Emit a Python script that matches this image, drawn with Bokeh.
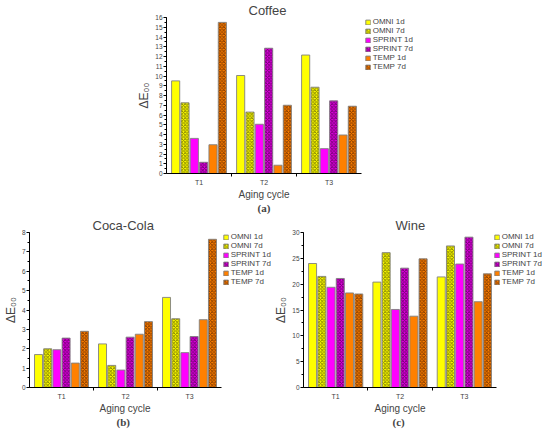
import numpy as np
from bokeh.plotting import figure
from bokeh.models import (Range1d, FixedTicker, SingleIntervalTicker, Legend,
                          LegendItem, Title, Spacer)
from bokeh.layouts import column, row
from bokeh.embed import file_html
from bokeh.resources import INLINE

cycles = ["T1", "T2", "T3"]
series = ["OMNI 1d", "OMNI 7d", "SPRINT 1d", "SPRINT 7d", "TEMP 1d", "TEMP 7d"]

coffee_omni_1d = [9.5, 10.05, 12.15]
coffee_omni_7d = [7.25, 6.3, 8.85]
coffee_sprint_1d = [3.6, 5.05, 2.55]
coffee_sprint_7d = [1.15, 12.85, 7.45]
coffee_temp_1d = [2.95, 0.85, 3.95]
coffee_temp_7d = [15.5, 7.0, 6.9]

coca_omni_1d = [1.7, 2.25, 4.65]
coca_omni_7d = [2.0, 1.14, 3.55]
coca_sprint_1d = [1.95, 0.9, 1.8]
coca_sprint_7d = [2.55, 2.6, 2.63]
coca_temp_1d = [1.26, 2.75, 3.5]
coca_temp_7d = [2.9, 3.4, 7.65]

wine_omni_1d = [24.0, 20.4, 21.4]
wine_omni_7d = [21.5, 26.1, 27.4]
wine_sprint_1d = [19.4, 15.1, 23.9]
wine_sprint_7d = [21.1, 23.1, 29.1]
wine_temp_1d = [18.3, 13.8, 16.6]
wine_temp_7d = [18.1, 24.9, 22.0]

coffee = [coffee_omni_1d, coffee_omni_7d, coffee_sprint_1d,
          coffee_sprint_7d, coffee_temp_1d, coffee_temp_7d]
coca = [coca_omni_1d, coca_omni_7d, coca_sprint_1d,
        coca_sprint_7d, coca_temp_1d, coca_temp_7d]
wine = [wine_omni_1d, wine_omni_7d, wine_sprint_1d,
        wine_sprint_7d, wine_temp_1d, wine_temp_7d]

fills = ["#FFFF00", "#FFFF00", "#FF00FF", "#E000E0", "#FF8000", "#FF8000"]
hatches = [None, "diagonal_cross", None, "diagonal_cross", None, "diagonal_cross"]
hatch_cols = ["#808000", "#707000", "#800080", "#600060", "#804000", "#703000"]

FONT = "Liberation Sans"
BAR_W = 0.125
STEP = 0.1436


def make_panel(title, values, ymax, yint, dw, lw, fh, caption, toff, aoff,
               coff, mbl):
    n = len(cycles)
    xmax = n - 0.5 + n * lw / dw
    p = figure(frame_width=dw + lw, frame_height=fh,
               x_range=Range1d(-0.5, xmax),
               y_range=Range1d(0, ymax),
               output_backend="svg", toolbar_location=None,
               min_border_left=mbl, min_border_right=0,
               min_border_top=0, min_border_bottom=0)
    p.outline_line_color = None
    p.xgrid.grid_line_color = None
    p.ygrid.grid_line_color = None
    p.background_fill_color = "white"
    p.border_fill_color = "white"

    p.title.text = title
    p.title.align = "left"
    p.title.text_font = FONT
    p.title.text_font_style = "normal"
    p.title.text_font_size = "13px"
    p.title.standoff = 0
    p.title.offset = toff

    idx = np.arange(n)
    items = []
    for j, (name, vals) in enumerate(zip(series, values)):
        xs = idx + (j - 2.5) * STEP
        r = p.vbar(x=xs, top=vals, width=BAR_W, bottom=0,
                   fill_color=fills[j],
                   hatch_pattern=hatches[j], hatch_color=hatch_cols[j],
                   hatch_scale=3.5, hatch_weight=0.9, hatch_alpha=0.9,
                   line_color="#808080", line_width=0.9)
        items.append(LegendItem(label=name, renderers=[r]))

    leg = Legend(items=items, location="top_right", margin=0, padding=1,
                 spacing=0, label_standoff=2, glyph_width=6, glyph_height=6,
                 label_height=8, label_text_font=FONT,
                 label_text_font_size="8px", border_line_color=None,
                 background_fill_alpha=0)
    p.add_layout(leg)

    ya = p.yaxis[0]
    ya.ticker = SingleIntervalTicker(interval=yint, num_minor_ticks=2)
    ya.axis_label = "ΔE₀₀"
    ya.axis_label_text_font = FONT
    ya.axis_label_text_font_style = "normal"
    ya.axis_label_text_font_size = "12px"
    ya.axis_label_standoff = 1
    ya.major_label_text_font = FONT
    ya.major_label_text_font_size = "6.5px"
    ya.major_label_standoff = 1
    ya.major_tick_out = 3
    ya.major_tick_in = 0
    ya.minor_tick_out = 2
    ya.minor_tick_in = 0
    ya.axis_line_color = "black"

    xa = p.xaxis[0]
    xa.bounds = (-0.5, n - 0.5)
    xa.ticker = FixedTicker(ticks=[float(i) for i in idx],
                            minor_ticks=[float(i) + 0.5 for i in idx[:-1]])
    xa.major_label_overrides = {int(i): c for i, c in zip(idx, cycles)}
    xa.major_label_text_font = FONT
    xa.major_label_text_font_size = "7px"
    xa.major_label_standoff = 2
    xa.major_tick_out = 0
    xa.major_tick_in = 0
    xa.minor_tick_out = 3
    xa.minor_tick_in = 0

    xlab = Title(text="Aging cycle", align="left", offset=aoff,
                 text_font=FONT, vertical_align="top",
                 text_font_style="normal", text_font_size="10px", standoff=0)
    p.add_layout(xlab, "below")

    cap = Title(text=caption, align="left", offset=coff,
                text_font="Liberation Serif", vertical_align="top",
                text_font_style="bold", text_font_size="11px", standoff=0)
    p.add_layout(cap, "below")
    return p


p1 = make_panel("Coffee", coffee, 16, 1, 195, 52, 156, "(a)", 82, 72, 91, 30)
p2 = make_panel("Coca-Cola", coca, 8, 1, 192, 50, 155, "(b)", 63, 70, 87, 20)
p3 = make_panel("Wine", wine, 30, 5, 193, 46, 155, "(c)", 92, 71, 89, 24)

layout = column(row(Spacer(width=134, height=10), p1), row(p2, p3))

open("out.html", "w").write(file_html(layout, INLINE))
